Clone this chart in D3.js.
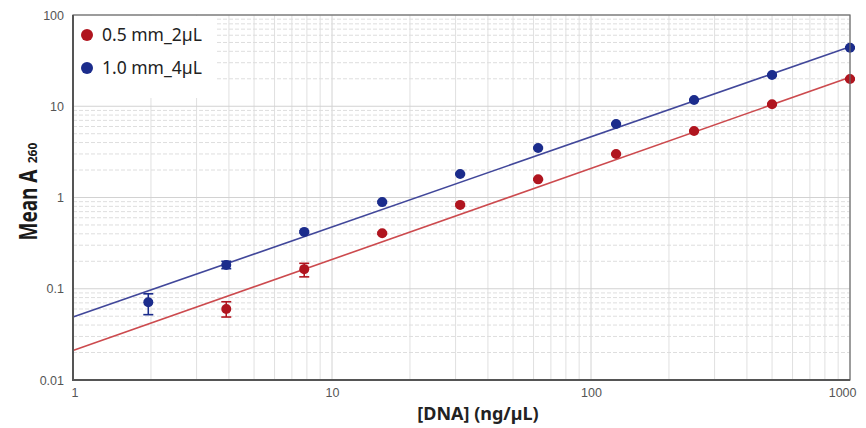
<!DOCTYPE html>
<html>
<head>
<meta charset="utf-8">
<script src="https://cdn.jsdelivr.net/npm/d3@7"></script>
<style>
  body { margin: 0; background: #fff; }
  svg { display: block; font-family: "Noto Sans", "Open Sans", sans-serif; }
</style>
</head>
<body>
<div id="chart"></div>
<script>
// DNA concentrations (ng/µL), 2-fold dilution series
const conc = [1.953, 3.906, 7.8125, 15.625, 31.25, 62.5, 125, 250, 500, 1000]

// 0.5 mm_2µL (no reading at the lowest concentration)
const redMean = [null, 0.060, 0.164, 0.405, 0.83, 1.58, 3.0, 5.35, 10.5, 19.9]
const redLow  = [null, 0.049, 0.135, 0.395, 0.81, 1.55, 2.95, 5.25, 10.3, 19.5]
const redHigh = [null, 0.072, 0.190, 0.415, 0.85, 1.61, 3.05, 5.45, 10.7, 20.3]

// 1.0 mm_4µL
const blueMean = [0.071, 0.182, 0.42, 0.89, 1.81, 3.49, 6.4, 11.7, 22.0, 43.8]
const blueLow  = [0.052, 0.166, 0.41, 0.87, 1.78, 3.43, 6.3, 11.5, 21.6, 43.0]
const blueHigh = [0.088, 0.200, 0.43, 0.91, 1.84, 3.55, 6.5, 11.9, 22.4, 44.6]

// fitted lines, read at both ends of the x range
const fitX = [1, 1000]
const redFit = [0.021, 20.8]
const blueFit = [0.049, 44.9]

const seriesNames = ["0.5 mm_2µL", "1.0 mm_4µL"]
const xTicks = [1, 10, 100, 1000]
const yTicks = [0.01, 0.1, 1, 10, 100]

const width = 866
const height = 428
const margin = {top: 15, right: 16, bottom: 48, left: 73}

const dotColors = ["#b0151f", "#1b2c8c"]
const lineColors = ["#cc4a4e", "#41479a"]

const x = d3.scaleLog()
            .domain([1, 1000])
            .range([margin.left, width - margin.right])
const y = d3.scaleLog()
            .domain([0.01, 100])
            .range([height - margin.bottom, margin.top])

const svg = d3.select("#chart")
              .append("svg")
              .attr("width", width)
              .attr("height", height)

// grid
const grid = svg.append("g")
grid.selectAll("line.vx")
    .data(x.ticks())
    .enter()
    .append("line")
    .attr("class", "vx")
    .attr("x1", d => x(d)).attr("x2", d => x(d))
    .attr("y1", y(100)).attr("y2", y(0.01))
    .attr("stroke", d => xTicks.includes(d) ? "#d2d2d2" : "#e0e0e0")
    .attr("stroke-width", 1)

grid.selectAll("line.hy")
    .data(y.ticks())
    .enter()
    .append("line")
    .attr("class", "hy")
    .attr("x1", x(1)).attr("x2", x(1000))
    .attr("y1", d => y(d)).attr("y2", d => y(d))
    .attr("stroke", d => yTicks.includes(d) ? "#d2d2d2" : "#dedede")
    .attr("stroke-dasharray", d => yTicks.includes(d) ? null : "4,2")
    .attr("stroke-width", 1)

// legend background hides the grid behind it
svg.append("rect")
   .attr("x", margin.left + 1)
   .attr("y", margin.top + 1)
   .attr("width", 142)
   .attr("height", 82)
   .attr("fill", "#fff")

// fit lines
const fitLine = d3.line()
                  .x(d => x(d[0]))
                  .y(d => y(d[1]))
const fits = [redFit, blueFit]
fits.forEach((f, i) => {
  svg.append("path")
     .attr("d", fitLine(fitX.map((v, j) => [v, f[j]])))
     .attr("fill", "none")
     .attr("stroke", lineColors[i])
     .attr("stroke-width", 1.6)
})

// points with error bars
const series = [
  {mean: redMean, low: redLow, high: redHigh},
  {mean: blueMean, low: blueLow, high: blueHigh}
]
series.forEach((s, i) => {
  const pts = conc.map((c, j) => ({c, m: s.mean[j], lo: s.low[j], hi: s.high[j]}))
                  .filter(d => d.m != null)
  const g = svg.append("g").attr("stroke", dotColors[i]).attr("fill", dotColors[i])
  g.selectAll("line.bar")
   .data(pts)
   .enter()
   .append("line")
   .attr("x1", d => x(d.c)).attr("x2", d => x(d.c))
   .attr("y1", d => y(d.lo)).attr("y2", d => y(d.hi))
   .attr("stroke-width", 1.6)
  g.selectAll("line.capLo")
   .data(pts)
   .enter()
   .append("line")
   .attr("x1", d => x(d.c) - 5).attr("x2", d => x(d.c) + 5)
   .attr("y1", d => y(d.lo)).attr("y2", d => y(d.lo))
   .attr("stroke-width", 1.6)
  g.selectAll("line.capHi")
   .data(pts)
   .enter()
   .append("line")
   .attr("x1", d => x(d.c) - 5).attr("x2", d => x(d.c) + 5)
   .attr("y1", d => y(d.hi)).attr("y2", d => y(d.hi))
   .attr("stroke-width", 1.6)
  g.selectAll("circle")
   .data(pts)
   .enter()
   .append("circle")
   .attr("cx", d => x(d.c))
   .attr("cy", d => y(d.m))
   .attr("r", 5)
   .attr("stroke", "none")
})

// frame
svg.append("rect")
   .attr("x", margin.left)
   .attr("y", margin.top)
   .attr("width", x(1000) - x(1))
   .attr("height", y(0.01) - y(100))
   .attr("fill", "none")
   .attr("stroke", "#6a6a6a")
   .attr("stroke-width", 1.2)
svg.append("path")
   .attr("d", `M${x(1)},${y(100)}V${y(0.01)}H${x(1000)}`)
   .attr("fill", "none")
   .attr("stroke", "#555")
   .attr("stroke-width", 2)

// axes
const xAxis = d3.axisBottom(x)
                .tickValues(xTicks)
                .tickFormat(d3.format("~g"))
                .tickSize(0)
                .tickPadding(8)
const yAxis = d3.axisLeft(y)
                .tickValues(yTicks)
                .tickFormat(d3.format("~g"))
                .tickSize(0)
                .tickPadding(9)

const gx = svg.append("g")
   .attr("transform", `translate(0, ${height - margin.bottom})`)
   .call(xAxis)
gx.select(".domain").remove()
gx.selectAll("text")
  .style("font-size", "12.5px")
  .attr("fill", "#555")
  .attr("text-anchor", d => d === 1000 ? "end" : (d === 1 ? "start" : "middle"))
  .attr("dx", d => d === 1000 ? 6 : (d === 1 ? -2 : 0))

const gy = svg.append("g")
   .attr("transform", `translate(${margin.left}, 0)`)
   .call(yAxis)
gy.select(".domain").remove()
gy.selectAll("text")
  .style("font-size", "12.5px")
  .attr("fill", "#555")

// legend
seriesNames.forEach((name, i) => {
  svg.append("circle")
     .attr("cx", 87)
     .attr("cy", 35 + i * 33)
     .attr("r", 6)
     .attr("fill", dotColors[i])
  svg.append("text")
     .attr("x", 102)
     .attr("y", 35 + i * 33)
     .attr("dy", "0.35em")
     .style("font-size", "17.5px")
     .attr("fill", "#222")
     .text(name)
})

// axis titles
svg.append("text")
   .attr("x", 478)
   .attr("y", 420)
   .attr("text-anchor", "middle")
   .style("font-size", "18px")
   .style("font-weight", "bold")
   .attr("fill", "#222")
   .text("[DNA] (ng/µL)")

// y title, slightly tall lettering, small subscript
svg.append("text")
   .attr("transform", "translate(37, 205) rotate(-90) scale(1, 1.3)")
   .attr("text-anchor", "middle")
   .style("font-size", "19px")
   .style("font-weight", "bold")
   .attr("fill", "#1a1a1a")
   .text("Mean A")
svg.append("text")
   .attr("transform", "translate(37, 153) rotate(-90)")
   .attr("text-anchor", "middle")
   .style("font-size", "12px")
   .style("font-weight", "bold")
   .attr("fill", "#1a1a1a")
   .text("260")
</script>
</body>
</html>
